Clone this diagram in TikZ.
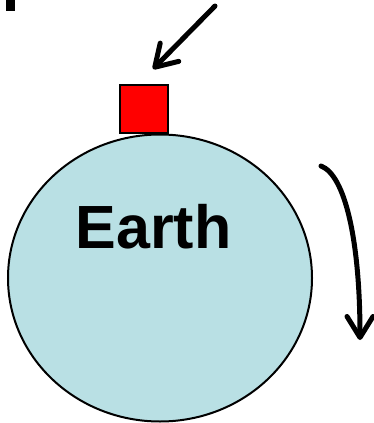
\documentclass[tikz,border=0pt]{standalone}
\usepackage{fontspec}
\setmainfont{Liberation Sans}
\usetikzlibrary{arrows.meta}
\definecolor{earthblue}{RGB}{185,224,228}
\tikzset{
  bigarrow/.style={line width=5pt, line cap=round, line join=round,
    -{Straight Barb[length=21pt, width=26pt, line cap=round, line join=round]}},
  earthstyle/.style={draw=black, line width=2pt, fill=earthblue},
  boxstyle/.style={draw=black, line width=2pt, fill=red}
}
\begin{document}
\begin{tikzpicture}[x=1pt,y=-1pt]
\useasboundingbox (0,0) rectangle (373,423);
\fill[black] (6,0) rectangle (15,11);
\draw[earthstyle] (160,278) ellipse [x radius=152, y radius=143.5];
\draw[boxstyle] (120,85) rectangle (168,133);
\node[anchor=base, inner sep=0pt, font=\bfseries\fontsize{61}{61}\selectfont] (earth) at (153.5,248) {Earth};
\coordinate (a1) at (215,6);
\coordinate (a2) at (153,69);
\draw[bigarrow] (a1) -- (a2);
\coordinate (r1) at (321,166);
\coordinate (r2) at (360,340);
\draw[bigarrow] (r1) .. controls (345,175) and (360,240) .. (r2);
\end{tikzpicture}
\end{document}
